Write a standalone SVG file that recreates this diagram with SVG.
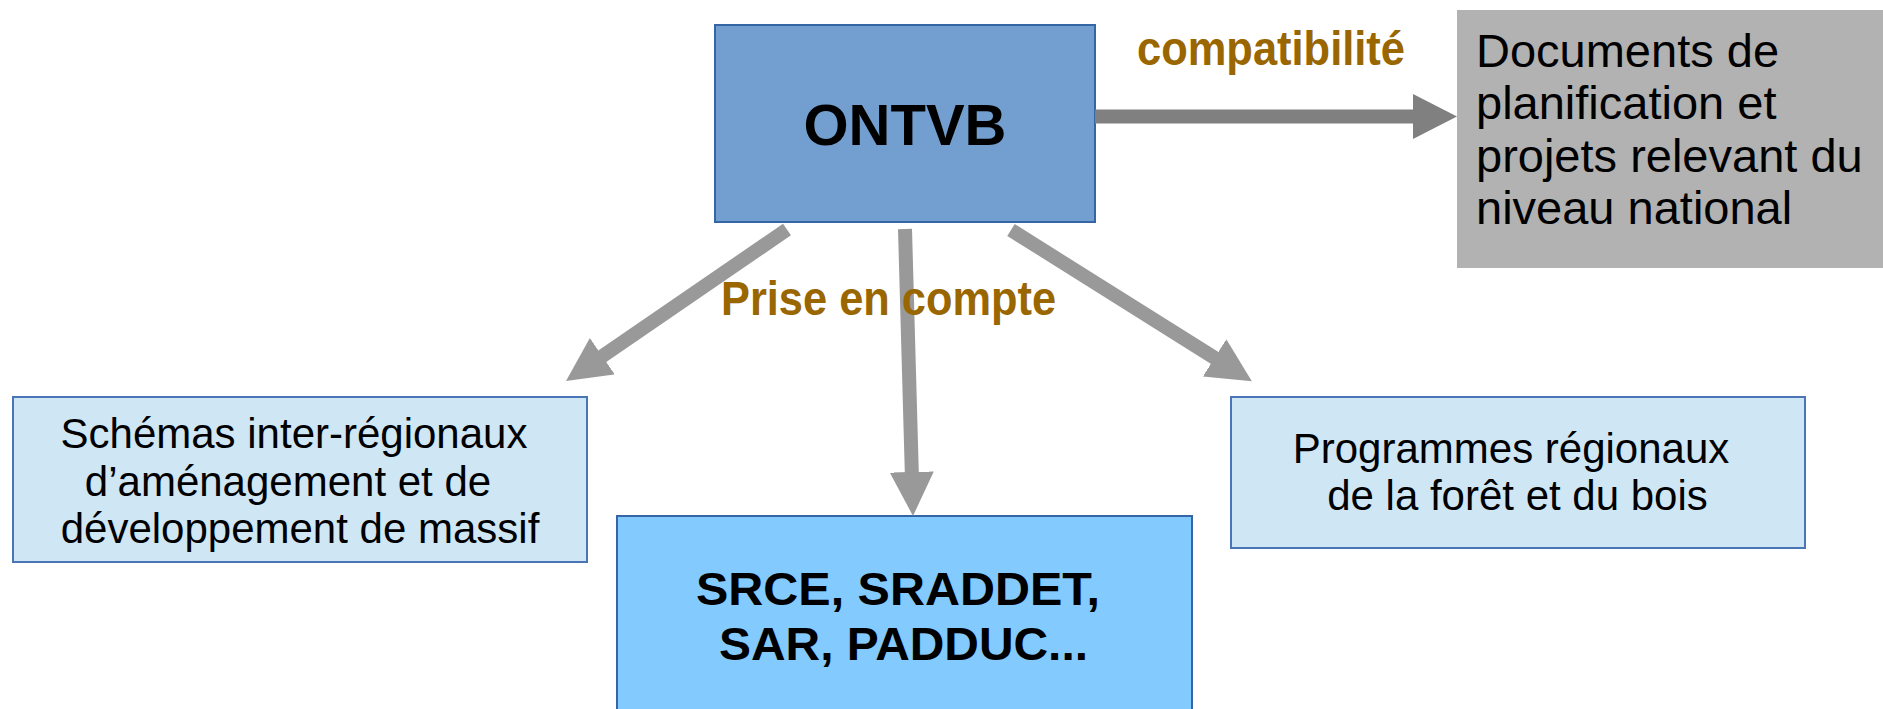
<svg xmlns="http://www.w3.org/2000/svg" width="1883" height="709" viewBox="0 0 1883 709">
<style>
  text { font-family: "Liberation Sans", Arial, Helvetica, sans-serif; fill: #000; }
  .bold { font-weight: bold; }
  .lbl { font-weight: bold; fill: #996600; font-size: 48px; }
  .reg { font-size: 42px; }
  .doc { font-size: 47px; }
  .light { fill: #cfe6f5; stroke: #4a76b8; stroke-width: 2; }
  .conn { fill: none; stroke-width: 14; stroke-linecap: butt; }
</style>
<defs>
  <marker id="headDark" markerUnits="userSpaceOnUse" viewBox="0 0 44 45" markerWidth="44" markerHeight="45" refX="4" refY="22.5" orient="auto">
    <path d="M0,0 L44,22.5 L0,45 Z" fill="#808080"/>
  </marker>
  <marker id="headLight" markerUnits="userSpaceOnUse" viewBox="0 0 44 44" markerWidth="44" markerHeight="44" refX="4" refY="22" orient="auto">
    <path d="M0,0 L44,22 L0,44 Z" fill="#999999"/>
  </marker>
</defs>
<rect width="1883" height="709" fill="#ffffff"/>

<g id="node-ontvb">
  <rect x="715" y="25" width="380" height="197" fill="#729fcf" stroke="#3465a4" stroke-width="2"/>
  <text class="bold" x="905" y="145" font-size="58" text-anchor="middle">ONTVB</text>
</g>

<g id="node-documents">
  <rect x="1457" y="10" width="426" height="258" fill="#b2b2b2"/>
  <text class="doc" x="1476" y="67">Documents de</text>
  <text class="doc" x="1476" y="119">planification et</text>
  <text class="doc" x="1476" y="172">projets relevant du</text>
  <text class="doc" x="1476" y="224">niveau national</text>
</g>

<g id="node-schemas">
  <rect class="light" x="13" y="397" width="574" height="165"/>
  <text class="reg" x="294" y="448" text-anchor="middle">Schémas inter-régionaux</text>
  <text class="reg" x="288" y="496" text-anchor="middle">d’aménagement et de</text>
  <text class="reg" x="300" y="543" text-anchor="middle">développement de massif</text>
</g>

<g id="node-srce">
  <rect x="617" y="516" width="575" height="210" fill="#83caff" stroke="#3465a4" stroke-width="2"/>
  <text class="bold" x="696" y="605" font-size="47" textLength="404" lengthAdjust="spacingAndGlyphs">SRCE, SRADDET,</text>
  <text class="bold" x="719" y="660" font-size="47" textLength="369" lengthAdjust="spacingAndGlyphs">SAR, PADDUC...</text>
</g>

<g id="node-programmes">
  <rect class="light" x="1231" y="397" width="574" height="151"/>
  <text class="reg" x="1511" y="463" text-anchor="middle">Programmes régionaux</text>
  <text class="reg" x="1517.5" y="510" text-anchor="middle">de la forêt et du bois</text>
</g>

<g id="connectors">
  <path class="conn" d="M1095,116.5 L1417,116.5" stroke="#808080" stroke-width="15" marker-end="url(#headDark)"/>
  <path class="conn" d="M787,229.5 L599,358.4" stroke="#999999" marker-end="url(#headLight)"/>
  <path class="conn" d="M905,229 L911.9,476" stroke="#999999" marker-end="url(#headLight)"/>
  <path class="conn" d="M1011,230 L1218,360" stroke="#999999" marker-end="url(#headLight)"/>
</g>

<g id="labels">
  <text class="lbl" x="1137" y="65" textLength="268" lengthAdjust="spacingAndGlyphs">compatibilité</text>
  <text class="lbl" x="721" y="315" textLength="335" lengthAdjust="spacingAndGlyphs">Prise en compte</text>
</g>
</svg>
